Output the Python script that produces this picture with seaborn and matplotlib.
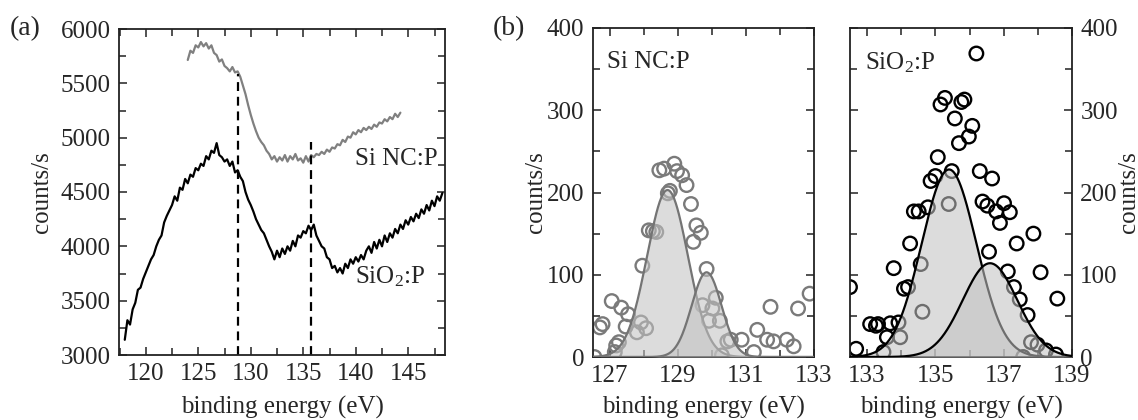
import numpy as np
import pandas as pd
import matplotlib
matplotlib.use("Agg")
import matplotlib.pyplot as plt
from matplotlib.ticker import MultipleLocator, FixedLocator
import seaborn as sns

# ---------------- data: panel (a) spectra ----------------
nc_start, nc_end = 124.0, 144.25
nc_counts = [5715, 5800, 5780, 5850, 5830, 5880, 5840, 5870, 5820, 5850,
             5780, 5760, 5700, 5720, 5660, 5640, 5610, 5650, 5600, 5610,
             5560, 5480, 5400, 5300, 5210, 5130, 5060, 5000, 4960, 4930,
             4880, 4850, 4800, 4830, 4780, 4820, 4790, 4840, 4780, 4830,
             4800, 4850, 4790, 4810, 4770, 4830, 4780, 4840, 4820, 4850,
             4840, 4870, 4850, 4890, 4870, 4910, 4900, 4940, 4930, 4980,
             4960, 5010, 5000, 5050, 5030, 5070, 5050, 5090, 5070, 5100,
             5080, 5120, 5100, 5140, 5130, 5170, 5150, 5190, 5170, 5220,
             5190, 5230]

ox_start, ox_end = 118.0, 148.25
ox_counts = [3140, 3320, 3280, 3420, 3480, 3600, 3620, 3700, 3760, 3820,
             3880, 3920, 4000, 4060, 4100, 4220, 4280, 4330, 4380, 4460,
             4420, 4540, 4520, 4620, 4580, 4660, 4640, 4720, 4700, 4760,
             4740, 4830, 4800, 4880, 4860, 4950, 4840, 4820, 4780, 4800,
             4740, 4780, 4680, 4700, 4640, 4600, 4500, 4430, 4380, 4320,
             4250, 4200, 4150, 4120, 4060, 4000, 3950, 3880, 3960, 3900,
             3980, 3930, 4000, 3960, 4050, 4000, 4100, 4080, 4140, 4120,
             4190, 4150, 4200, 4100, 4050, 4000, 3980, 3900, 3880, 3800,
             3820, 3760, 3800, 3750, 3840, 3800, 3880, 3840, 3900, 3860,
             3920, 3880, 3960, 4000, 3940, 4040, 3980, 4060, 4000, 4100,
             4040, 4120, 4080, 4160, 4120, 4200, 4160, 4240, 4200, 4270,
             4230, 4300, 4260, 4340, 4300, 4380, 4330, 4420, 4370, 4460,
             4420, 4490]

marker_lines_x = [128.8, 135.7]
marker_lines_top = [5590, 4960]

# ---------------- data: panel (b) Si NC:P ----------------
nc_pts_x = [126.55, 126.71, 126.79, 127.06, 127.15, 127.19, 127.27, 127.34, 127.47, 127.54,
            127.80, 127.92, 128.07, 127.96, 128.15, 128.27, 128.37, 128.46, 128.60, 128.71,
            128.77, 128.90, 128.98, 129.13, 129.26, 129.39, 129.46, 129.55, 129.68, 129.85,
            129.73, 129.92, 130.02, 130.12, 130.24, 130.30, 130.46, 130.56, 130.88, 131.24,
            131.34, 131.63, 131.82, 131.73, 132.21, 132.41, 132.54, 132.88]
nc_pts_y = [0, 36, 40, 68, 6, 14, 18, 60, 37, 52,
            30, 42, 35, 111, 154, 153, 152, 227, 229, 199,
            202, 235, 226, 221, 209, 186, 140, 160, 151, 107,
            63, 44, 59, 72, 44, 2, 19, 21, 21, 6,
            33, 21, 19, 61, 21, 13, 59, 77]
nc_peak_center = [128.7, 129.85]
nc_peak_height = [203, 103]
nc_peak_sigma = [0.60, 0.44]

# ---------------- data: panel (b) SiO2:P ----------------
ox_pts_x = [132.50, 132.68, 133.09, 133.26, 133.32, 133.48, 133.58, 133.68, 133.78, 133.92,
            133.97, 134.08, 134.20, 134.26, 134.37, 134.51, 134.57, 134.62, 134.78, 134.86,
            135.00, 135.07, 135.15, 135.28, 135.39, 135.48, 135.57, 135.69, 135.76, 135.85,
            135.98, 136.08, 136.20, 136.30, 136.38, 136.52, 136.57, 136.66, 136.78, 136.89,
            137.01, 137.12, 137.18, 137.30, 137.38, 137.47, 137.57, 137.70, 137.80, 137.87,
            137.99, 138.08, 138.24, 138.53, 138.57]
ox_pts_y = [85, 10, 40, 38, 40, 6, 24, 41, 108, 42,
            24, 83, 85, 138, 177, 177, 113, 55, 182, 214,
            220, 243, 307, 315, 186, 226, 290, 260, 310, 313,
            268, 281, 369, 226, 189, 184, 128, 217, 177, 163,
            187, 104, 176, 85, 138, 70, 0, 51, 18, 150,
            15, 103, 8, 3, 71]
ox_peak_center = [135.4, 136.6]
ox_peak_height = [228, 114]
ox_peak_sigma = [0.80, 0.80]

# ---------------- styling ----------------
sns.set_theme(style="ticks")
plt.rcParams["font.family"] = ["Liberation Serif", "DejaVu Serif"]
plt.rcParams["mathtext.fontset"] = "custom"
plt.rcParams["mathtext.rm"] = "Liberation Serif"
plt.rcParams["mathtext.it"] = "Liberation Serif:italic"

FS = 18
SPINE = "#222222"
FILL_C = "#c3c3c3"
FILL_A = 0.57

fig = plt.figure(figsize=(11.38, 4.20), dpi=100)
ax_a = fig.add_axes([119 / 1138, 1 - 355 / 420, 326 / 1138, 326 / 420])
ax_b1 = fig.add_axes([592.7 / 1138, 1 - 357 / 420, 221 / 1138, 329 / 420])
ax_b2 = fig.add_axes([850 / 1138, 1 - 357 / 420, 222 / 1138, 329 / 420])


def style_axes(ax):
    for s in ax.spines.values():
        s.set_color(SPINE)
        s.set_linewidth(1.3)
    ax.tick_params(which="both", direction="in", top=True, right=True,
                   color=SPINE, width=1.1, labelsize=FS, pad=6)
    ax.tick_params(which="major", length=6)
    ax.tick_params(which="minor", length=5)


# ---------------- panel (a) ----------------
df_nc = pd.DataFrame({"E": np.linspace(nc_start, nc_end, len(nc_counts)), "c": nc_counts})
df_ox = pd.DataFrame({"E": np.linspace(ox_start, ox_end, len(ox_counts)), "c": ox_counts})
sns.lineplot(data=df_nc, x="E", y="c", ax=ax_a, color="#808080", lw=1.6, sort=False)
sns.lineplot(data=df_ox, x="E", y="c", ax=ax_a, color="black", lw=1.6, sort=False)
for xv, top in zip(marker_lines_x, marker_lines_top):
    ax_a.plot([xv, xv], [3000, top], color="black", lw=1.6, ls=(0, (4, 2.6)))
ax_a.set_xlim(117.45, 148.5)
ax_a.set_ylim(3000, 6000)
ax_a.xaxis.set_major_locator(MultipleLocator(5))
ax_a.xaxis.set_minor_locator(MultipleLocator(2.5))
ax_a.yaxis.set_major_locator(MultipleLocator(500))
ax_a.yaxis.set_minor_locator(MultipleLocator(250))
ax_a.text(139.9, 4800, "Si NC:P", fontsize=FS, va="center", ha="left")
ax_a.text(139.9, 3720, "SiO$_2$:P", fontsize=FS, va="center", ha="left")
ax_a.set_xlabel("binding energy (eV)", fontsize=FS)
ax_a.set_ylabel("counts/s", fontsize=FS)
ax_a.xaxis.set_label_coords(0.5, -0.125)
ax_a.yaxis.set_label_coords(-0.202, 0.5)
style_axes(ax_a)


# ---------------- panel (b) ----------------
def gauss(x, c, h, s):
    return h * np.exp(-0.5 * ((x - c) / s) ** 2)


def draw_fit(ax, px, py, centers, heights, sigmas, xlim, pt_color, line_color):
    pts = pd.DataFrame({"E": px, "c": py})
    sns.scatterplot(data=pts, x="E", y="c", ax=ax, marker="o", s=95,
                    facecolor="none", edgecolor=pt_color, linewidth=1.7,
                    zorder=1, clip_on=True)
    xs = np.linspace(xlim[0], xlim[1], 400)
    z = 2
    for c, h, s in zip(centers, heights, sigmas):
        ys = gauss(xs, c, h, s)
        ax.fill_between(xs, 0, ys, color=FILL_C, alpha=FILL_A, lw=0, zorder=z)
        fit = pd.DataFrame({"E": xs, "c": ys})
        sns.lineplot(data=fit, x="E", y="c", ax=ax, color=line_color, lw=1.6,
                     sort=False, zorder=z + 1)
        z += 2
    ax.set_xlim(*xlim)
    ax.set_ylim(0, 400)
    ax.xaxis.set_major_locator(MultipleLocator(2))
    ax.xaxis.set_minor_locator(MultipleLocator(1))
    ax.yaxis.set_major_locator(MultipleLocator(100))
    ax.yaxis.set_minor_locator(MultipleLocator(50))
    style_axes(ax)
    ax.set_xlabel("binding energy (eV)", fontsize=FS)
    ax.xaxis.set_label_coords(0.5, -0.118)


draw_fit(ax_b1, nc_pts_x, nc_pts_y, nc_peak_center, nc_peak_height, nc_peak_sigma,
         (126.5, 133.0), "#7a7a7a", "#747474")
ax_b1.xaxis.set_major_locator(FixedLocator([127, 129, 131, 133]))
ax_b1.set_ylabel("counts/s", fontsize=FS)
ax_b1.yaxis.set_label_coords(-0.207, 0.5)
ax_b1.text(0.065, 0.897, "Si NC:P", transform=ax_b1.transAxes, fontsize=FS,
           va="center", ha="left")

draw_fit(ax_b2, ox_pts_x, ox_pts_y, ox_peak_center, ox_peak_height, ox_peak_sigma,
         (132.5, 139.0), "black", "black")
ax_b2.xaxis.set_major_locator(FixedLocator([133, 135, 137, 139]))
ax_b2.tick_params(axis="y", labelleft=False, labelright=True)
ax_b2.yaxis.set_label_position("right")
ax_b2.set_ylabel("counts/s", fontsize=FS)
ax_b2.yaxis.set_label_coords(1.207, 0.5)
ax_b2.text(0.068, 0.895, "SiO$_2$:P", transform=ax_b2.transAxes, fontsize=FS,
           va="center", ha="left")

fig.text(10 / 1138, 1 - 29 / 420, "(a)", fontsize=20, va="center", ha="left")
fig.text(493 / 1138, 1 - 29 / 420, "(b)", fontsize=20, va="center", ha="left")

fig.savefig("out.png", dpi=100)
